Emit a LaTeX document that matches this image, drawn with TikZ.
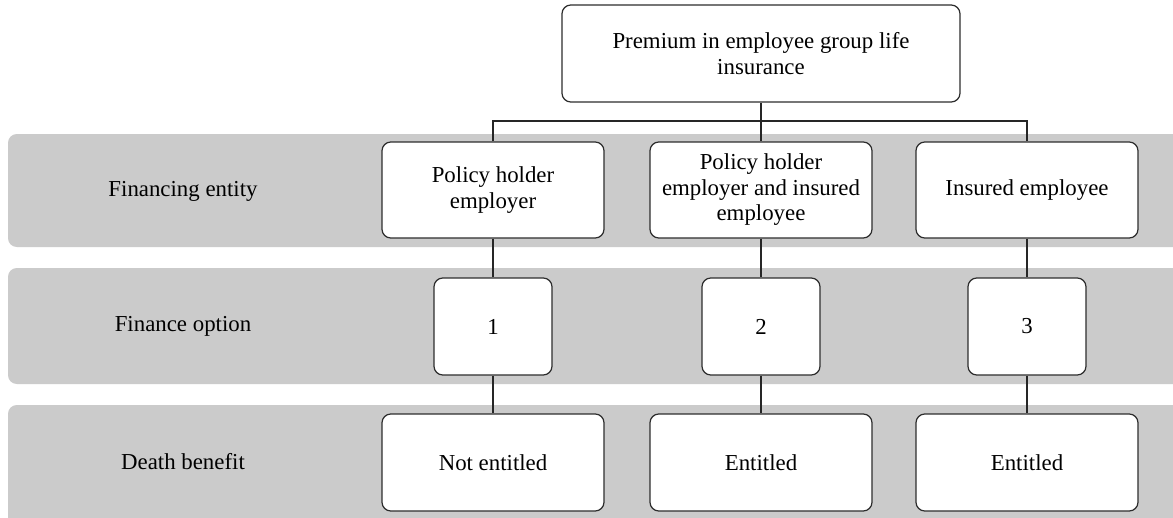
\documentclass[tikz,border=0pt]{standalone}
\usepackage{fontspec}
\setmainfont{Liberation Serif}
\definecolor{bandgray}{RGB}{203, 203, 203}
\definecolor{boxline}{RGB}{45, 45, 45}
\usetikzlibrary{positioning, calc}

\begin{document}
\begin{tikzpicture}[
    font=\fontsize{13}{14.5}\selectfont,
    entry/.style={draw=boxline, fill=white, rounded corners=5pt, line width=0.7pt, align=center, inner sep=2pt},
    link/.style={draw=black!85, line width=0.6pt},
    rowlabel/.style={align=center}
  ]
  \useasboundingbox (0, 0) rectangle (23.46, -10.36);

  % Bands
  \fill[bandgray, rounded corners=5pt] (0.16, -2.68) rectangle (23.8, -4.94);
  \fill[bandgray, rounded corners=5pt] (0.16, -5.36) rectangle (23.8, -7.68);
  \fill[bandgray, rounded corners=5pt] (0.16, -8.10) rectangle (23.8, -10.8);

  % Row labels
  \node[rowlabel] (lab1) at (3.66, -3.82) {Financing entity};
  \node[rowlabel] (lab2) at (3.66, -6.52) {Finance option};
  \node[rowlabel] (lab3) at (3.66, -9.24) {Death benefit};

  % Top box
  \node[entry, minimum width=7.96cm, minimum height=1.94cm] (premium) at (15.22, -1.07) {Premium in employee group life\\insurance};

  % Financing entity
  \node[entry, minimum width=4.44cm, minimum height=1.92cm] (holder) at (9.86, -3.80) {Policy holder\\employer};
  \node[entry, minimum width=4.44cm, minimum height=1.92cm] (both) at (15.22, -3.80) {Policy holder\\employer and insured\\employee};
  \node[entry, minimum width=4.44cm, minimum height=1.92cm] (insured) at (20.54, -3.80) {Insured employee};

  % Finance option
  \node[entry, minimum width=2.36cm, minimum height=1.94cm] (opt1) at (9.86, -6.53) {1};
  \node[entry, minimum width=2.36cm, minimum height=1.94cm] (opt2) at (15.22, -6.53) {2};
  \node[entry, minimum width=2.36cm, minimum height=1.94cm] (opt3) at (20.54, -6.53) {3};

  % Death benefit
  \node[entry, minimum width=4.44cm, minimum height=1.94cm] (ben1) at (9.86, -9.25) {Not entitled};
  \node[entry, minimum width=4.44cm, minimum height=1.94cm] (ben2) at (15.22, -9.25) {Entitled};
  \node[entry, minimum width=4.44cm, minimum height=1.94cm] (ben3) at (20.54, -9.25) {Entitled};

  % Connectors
  \coordinate (split) at (15.22, -2.42);
  \draw[link] (premium) -- (both);
  \draw[link] (holder.north) |- (split) -| (insured.north);
  \draw[link] (holder) -- (opt1);
  \draw[link] (both) -- (opt2);
  \draw[link] (insured) -- (opt3);
  \draw[link] (opt1) -- (ben1);
  \draw[link] (opt2) -- (ben2);
  \draw[link] (opt3) -- (ben3);
\end{tikzpicture}
\end{document}
